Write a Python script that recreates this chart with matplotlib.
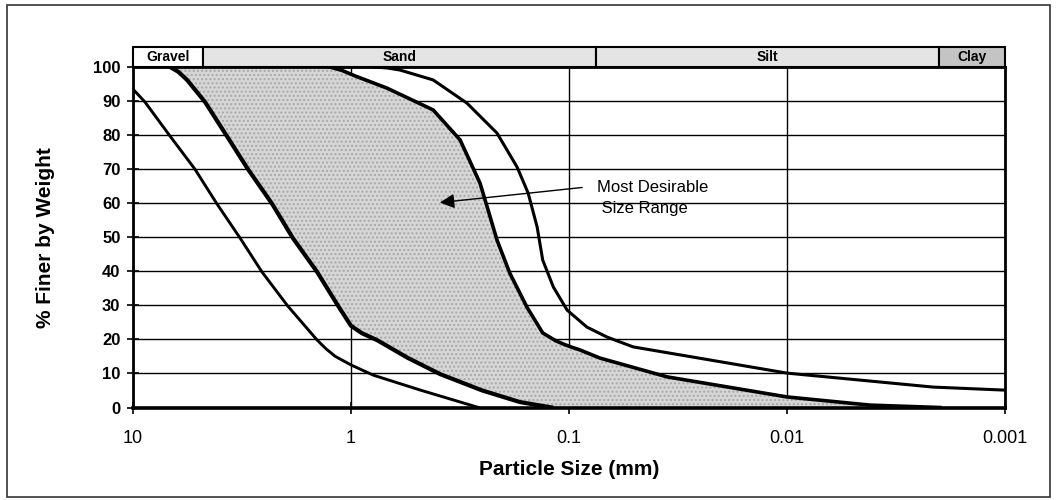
import numpy as np
from matplotlib import pyplot as plt
from matplotlib.patches import Rectangle
from matplotlib.ticker import NullLocator

plt.rcParams['font.family'] = ['Liberation Sans', 'DejaVu Sans']

# grading curves: particle size (mm) vs % finer by weight
outer_coarse_size = [10, 8.81, 6.76, 5.20, 4.12, 3.23, 2.56, 1.95, 1.43, 1.30, 1.18, 1.0, 0.79, 0.48, 0.26]
outer_coarse_pct = [93.5, 89.7, 79.7, 70.0, 59.8, 49.8, 39.8, 29.8, 19.8, 17.2, 15.0, 12.5, 9.5, 5.1, 0]

desirable_coarse_size = [6.76, 6.2, 5.65, 4.67, 3.71, 2.97, 2.30, 1.85, 1.43, 1.15, 1.06, 1.0, 0.89,
                         0.76, 0.55, 0.39, 0.25, 0.168, 0.12]
desirable_coarse_pct = [100, 98.6, 96.2, 89.7, 79.7, 70.0, 59.8, 49.8, 39.8, 30.0, 26.5, 24.0, 21.8,
                        19.8, 14.6, 9.8, 5.0, 1.6, 0]

desirable_fine_size = [1.25, 1.1, 0.96, 0.684, 0.42, 0.316, 0.256, 0.235, 0.214, 0.187, 0.156, 0.132,
                       0.115, 0.104, 0.095, 0.089, 0.072, 0.0355, 0.01, 0.00416, 0.00199]
desirable_fine_pct = [100, 99.0, 97.4, 93.8, 87.4, 78.6, 65.9, 58.0, 49.2, 39.5, 29.5, 21.9,
                      19.6, 18.4, 17.5, 16.9, 14.5, 9.0, 3.1, 0.7, 0]

outer_fine_size = [0.776, 0.68, 0.596, 0.42, 0.294, 0.214, 0.173, 0.154, 0.140, 0.132, 0.118, 0.102,
                   0.0827, 0.067, 0.0508, 0.01, 0.00214, 0.001]
outer_fine_pct = [100, 99.7, 99.1, 96.2, 89.4, 80.6, 70.6, 63.0, 53.0, 43.3, 35.4, 28.6,
                  23.6, 20.7, 17.8, 10.1, 6.0, 5.1]

soil_classes = ['Gravel', 'Sand', 'Silt', 'Clay']
class_bounds = [10, 4.75, 0.075, 0.002, 0.001]
class_colors = ['white', '#e4e4e4', '#e4e4e4', '#c4c4c4']

x_ticks = [10, 1, 0.1, 0.01, 0.001]
x_tick_labels = ['10', '1', '0.1', '0.01', '0.001']
y_ticks = list(range(0, 101, 10))

fig = plt.figure(figsize=(10.57, 5), dpi=100)
ax = fig.add_axes([133 / 1057, 1 - 407.5 / 500, 872 / 1057, 340.5 / 500])
ax.set_xscale('log')
ax.set_xlim(10, 0.001)
ax.set_ylim(0, 100)

# shaded "most desirable" envelope
ax.fill(np.r_[desirable_coarse_size, desirable_fine_size[::-1]],
        np.r_[desirable_coarse_pct, desirable_fine_pct[::-1]],
        facecolor='#d6d6d6', edgecolor='#a8a8a8', hatch='....', lw=0, zorder=1)

ax.plot(outer_coarse_size, outer_coarse_pct, color='black', lw=2.1, zorder=3)
ax.plot(desirable_coarse_size, desirable_coarse_pct, color='black', lw=3.0, zorder=3)
ax.plot(desirable_fine_size, desirable_fine_pct, color='black', lw=2.6, zorder=3)
ax.plot(outer_fine_size, outer_fine_pct, color='black', lw=2.2, zorder=3)

ax.set_xticks(x_ticks)
ax.set_xticklabels(x_tick_labels)
ax.xaxis.set_minor_locator(NullLocator())
ax.set_yticks(y_ticks)
ax.set_axisbelow(True)
ax.grid(True, color='black', lw=1.0)
ax.tick_params(direction='inout', length=8, width=1.2, labelsize=12)
ax.tick_params(axis='x', pad=12, labelsize=13)
ax.tick_params(axis='y', pad=5)
for lab in ax.get_yticklabels():
    lab.set_fontweight('bold')
for side in ['left', 'right', 'top']:
    ax.spines[side].set_linewidth(2.0)
ax.spines['bottom'].set_linewidth(2.6)

ax.set_ylabel('% Finer by Weight', fontsize=15, fontweight='bold')
ax.yaxis.set_label_coords(-0.090, 0.5)
ax.set_xlabel('Particle Size (mm)', fontsize=15, fontweight='bold')
ax.xaxis.set_label_coords(0.5, -0.155)

# soil class band above the plot
band_h = 5.9
for name, lo, hi, col in zip(soil_classes, class_bounds[:-1], class_bounds[1:], class_colors):
    ax.add_patch(Rectangle((lo, 100), hi - lo, band_h, facecolor=col, edgecolor='black',
                           lw=1.5, clip_on=False, zorder=4))
    ax.text(np.sqrt(lo * hi), 100 + band_h / 2, name, ha='center', va='center',
            fontsize=10, fontweight='bold', zorder=5, clip_on=False)

ax.annotate('', xy=(0.403, 60.1), xytext=(0.0845, 64.7),
            arrowprops=dict(arrowstyle='-|>', color='black', lw=1.0, mutation_scale=22),
            zorder=5)
ax.text(0.0744, 61.5, 'Most Desirable\n Size Range', ha='left', va='center',
        fontsize=12, linespacing=1.5, zorder=5)

fig.add_artist(Rectangle((7 / 1057, 3 / 500), 1043 / 1057, 492 / 500,
                         transform=fig.transFigure, fill=False, lw=1.2, edgecolor='#333333'))

fig.savefig('out.png', dpi=100)
